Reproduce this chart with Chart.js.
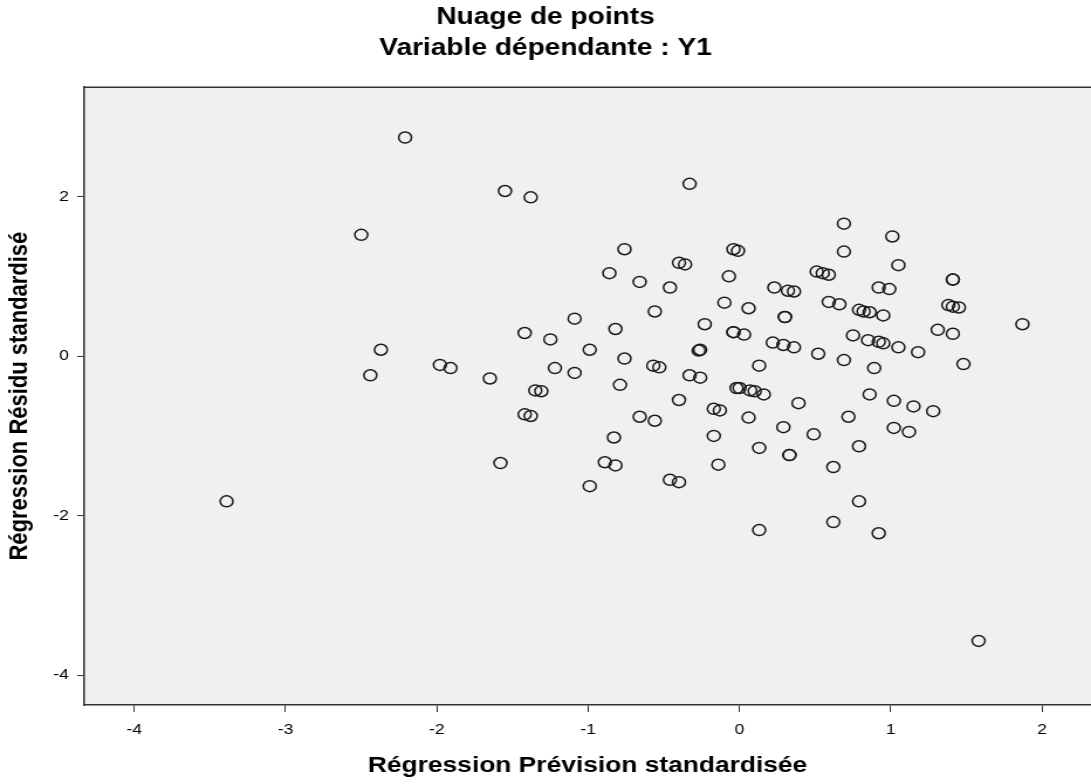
<!DOCTYPE html>
<html>
<head>
<meta charset="utf-8">
<script src="https://cdn.jsdelivr.net/npm/chart.js@4"></script>
<style>
  html, body { margin: 0; padding: 0; background: #fff; overflow: hidden; }
  /* the source image is stretched horizontally, so the canvas is too */
  #wrap { width: 1091px; height: 784px; overflow: hidden; }
  canvas { display: block; transform-origin: 0 0; }
</style>
</head>
<body>
<div id="wrap"><canvas id="scatterChart" width="932" height="784"></canvas></div>
<script>
    // Prévision standardisée (x) et résidu standardisé (y)
    const xPred = [
        -2.21, -2.50, -1.55, -1.38, -0.33, -2.37, -2.44, -3.39, -1.98, -1.91,
        -1.65, -1.58, -1.42, -1.42, -1.38, -1.35, -1.31, -1.25, -1.22, -1.09,
        -1.09, -0.99, -0.99, -0.89, -0.82, -0.83, -0.82, -0.86, -0.79, -0.76,
        -0.76, -0.66, -0.66, -0.56, -0.57, -0.53, -0.56, -0.46, -0.46, -0.40,
        -0.40, -0.40, -0.36, -0.33, -0.26, -0.27, -0.26, -0.23, -0.17, -0.17,
        -0.13, -0.14, -0.10, -0.07, -0.04, -0.04, 0.03, -0.04, -0.01, 0.00,
        -0.02, 0.06, 0.07, 0.10, 0.16, 0.06, 0.13, 0.13, 0.13, 0.23,
        0.22, 0.29, 0.36, 0.30, 0.30, 0.29, 0.33, 0.33, 0.32, 0.36,
        0.39, 0.49, 0.52, 0.51, 0.55, 0.59, 0.59, 0.66, 0.62, 0.62,
        0.69, 0.69, 0.69, 0.72, 0.75, 0.79, 0.82, 0.86, 0.79, 0.79,
        0.85, 0.92, 0.95, 0.86, 0.89, 0.92, 0.99, 0.92, 0.95, 1.01,
        1.02, 1.02, 1.05, 1.05, 1.12, 1.15, 1.18, 1.28, 1.31, 1.38,
        1.41, 1.45, 1.41, 1.41, 1.41, 1.48, 1.58, 1.87
    ];
    const yResid = [
        2.74, 1.52, 2.07, 1.99, 2.16, 0.08, -0.24, -1.82, -0.11, -0.15,
        -0.28, -1.34, 0.29, -0.73, -0.75, -0.43, -0.44, 0.21, -0.15, 0.47,
        -0.21, 0.08, -1.63, -1.33, -1.37, -1.02, 0.34, 1.04, -0.36, 1.34,
        -0.03, 0.93, -0.76, 0.56, -0.12, -0.14, -0.81, 0.86, -1.55, -1.58,
        -0.55, 1.17, 1.15, -0.24, -0.27, 0.07, 0.08, 0.40, -1.00, -0.66,
        -0.68, -1.36, 0.67, 1.00, 0.30, 0.30, 0.27, 1.34, 1.32, -0.40,
        -0.40, 0.60, -0.43, -0.44, -0.48, -0.77, -0.12, -1.15, -2.18, 0.86,
        0.17, 0.14, 0.11, 0.49, 0.49, -0.89, -1.24, -1.24, 0.82, 0.81,
        -0.59, -0.98, 0.03, 1.06, 1.04, 1.02, 0.68, 0.65, -1.39, -2.08,
        1.31, 1.66, -0.05, -0.76, 0.26, 0.58, 0.56, 0.55, -1.13, -1.82,
        0.20, 0.18, 0.16, -0.48, -0.15, 0.86, 0.84, -2.22, 0.51, 1.50,
        -0.56, -0.90, 0.11, 1.14, -0.95, -0.63, 0.05, -0.69, 0.33, 0.64,
        0.62, 0.61, 0.96, 0.96, 0.28, -0.10, -3.57, 0.40
    ];

    const xTicks = [-4, -3, -2, -1, 0, 1, 2];
    const yTicks = [-4, -2, 0, 2];

    const points = xPred.map((x, i) => ({ x: x, y: yResid[i] }));

    const fontFamily = '"Liberation Sans", Arial, sans-serif';

    const canvas = document.getElementById('scatterChart');
    canvas.style.width = canvas.width + 'px';
    canvas.style.height = canvas.height + 'px';
    canvas.style.transform = 'scaleX(' + (1091 / canvas.width) + ')';

    // fond gris de la zone de tracé + cadre du haut
    const plotFrame = {
        id: 'plotFrame',
        beforeDraw(chart) {
            const { ctx, chartArea: a } = chart;
            ctx.save();
            ctx.fillStyle = '#ffffff';
            ctx.fillRect(0, 0, chart.width, chart.height);
            ctx.fillStyle = '#f0f0f0';
            ctx.fillRect(a.left, a.top, a.right - a.left, a.bottom - a.top);
            ctx.restore();
        },
        afterDraw(chart) {
            const { ctx, chartArea: a } = chart;
            ctx.save();
            ctx.strokeStyle = '#333333';
            ctx.lineWidth = 1.5;
            ctx.beginPath();
            ctx.moveTo(a.left, a.top);
            ctx.lineTo(a.right, a.top);
            ctx.stroke();
            ctx.restore();
        }
    };

    new Chart(canvas.getContext('2d'), {
        type: 'scatter',
        data: {
            datasets: [{
                label: 'Résidu',
                data: points,
                pointStyle: 'circle',
                pointRadius: 5.5,
                pointHoverRadius: 5.5,
                pointBorderWidth: 1.5,
                borderColor: '#1a1a1a',
                backgroundColor: 'rgba(0,0,0,0)'
            }]
        },
        options: {
            responsive: false,
            animation: false,
            layout: { padding: 0, autoPadding: false },
            plugins: {
                legend: { display: false },
                tooltip: { enabled: false },
                title: {
                    display: true,
                    text: 'Nuage de points',
                    color: '#000',
                    font: { family: fontFamily, size: 24, weight: 'bold' },
                    padding: { top: 3, bottom: 2 }
                },
                subtitle: {
                    display: true,
                    text: 'Variable dépendante : Y1',
                    color: '#000',
                    font: { family: fontFamily, size: 24, weight: 'bold' },
                    padding: { top: 0, bottom: 24.6 }
                }
            },
            scales: {
                x: {
                    type: 'linear',
                    min: -4.332,
                    max: 2.323,
                    afterBuildTicks: (scale) => { scale.ticks = xTicks.map(v => ({ value: v })); },
                    afterFit: (scale) => {
                        scale.height = 79;
                        scale.paddingLeft = 0;
                        scale.paddingRight = 0;
                    },
                    grid: { drawOnChartArea: false, drawTicks: true, tickLength: 7, color: '#333', lineWidth: 1 },
                    border: { display: true, color: '#333', width: 1.5 },
                    ticks: {
                        color: '#000',
                        padding: 9,
                        maxRotation: 0,
                        font: { family: fontFamily, size: 15 }
                    },
                    title: {
                        display: true,
                        text: 'Régression Prévision standardisée',
                        color: '#000',
                        font: { family: fontFamily, size: 22.5, weight: 'bold' },
                        padding: { top: 2, bottom: 4.5 }
                    }
                },
                y: {
                    type: 'linear',
                    min: -4.373,
                    max: 3.371,
                    afterBuildTicks: (scale) => { scale.ticks = yTicks.map(v => ({ value: v })); },
                    afterFit: (scale) => {
                        scale.width = 71.8;
                        scale.paddingTop = 0;
                        scale.paddingBottom = 0;
                    },
                    grid: { drawOnChartArea: false, drawTicks: true, tickLength: 6, color: '#333', lineWidth: 1 },
                    border: { display: true, color: '#333', width: 1.5 },
                    ticks: {
                        color: '#000',
                        padding: 6.9,
                        font: { family: fontFamily, size: 15 }
                    },
                    title: {
                        display: true,
                        text: 'Régression Résidu standardisé',
                        color: '#000',
                        font: { family: fontFamily, size: 22, weight: 'bold' },
                        padding: { top: 3.9, bottom: 2 }
                    }
                }
            }
        },
        plugins: [plotFrame]
    });
</script>
</body>
</html>
